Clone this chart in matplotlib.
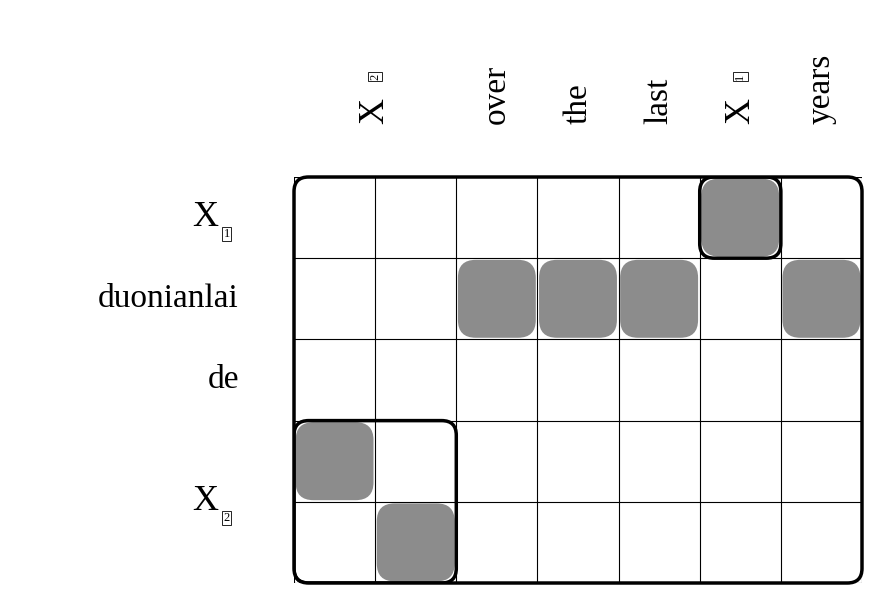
import matplotlib
matplotlib.use("Agg")
import matplotlib.pyplot as plt
from matplotlib.patches import FancyBboxPatch

rows = ["X1", "duonianlai", "de", "X2", ""]
cols = ["", "", "over", "the", "last", "X1", "years"]
filled = [(0, 5), (1, 2), (1, 3), (1, 4), (1, 6), (3, 0), (4, 1)]
boxes = [(0, 5, 1, 1), (3, 0, 2, 2)]  # row, col, nrows, ncols

W, H = 878, 594
fig = plt.figure(figsize=(W/100, H/100), dpi=100)
ax = fig.add_axes([294/W, 1-583/H, (862-294)/W, (583-177)/H])
ax.set_xlim(0, 7); ax.set_ylim(5, 0); ax.axis("off")
fam = "Liberation Serif"

for r, c in filled:
    ax.add_patch(FancyBboxPatch((c+0.02, r+0.02), 0.96, 0.96,
                 boxstyle="round,pad=0,rounding_size=0.22",
                 fc="#8c8c8c", ec="none", zorder=1))
for i in range(8):
    ax.plot([i, i], [0, 5], color="black", lw=0.8, zorder=2)
for j in range(6):
    ax.plot([0, 7], [j, j], color="black", lw=0.8, zorder=2)
for r, c, nr, nc in boxes:
    ax.add_patch(FancyBboxPatch((c, r), nc, nr,
                 boxstyle="round,pad=0,rounding_size=0.18",
                 fc="none", ec="black", lw=2.5, zorder=3))
ax.add_patch(FancyBboxPatch((0, 0), 7, 5, boxstyle="round,pad=0,rounding_size=0.18",
             fc="none", ec="black", lw=2.5, zorder=3, clip_on=False))

def xlab(x, y, num, rot):
    if rot:
        ax.text(x, y, "X", rotation=90, ha="center", va="bottom", fontsize=26, family=fam)
        ax.text(x, y-0.55, num, rotation=90, ha="center", va="bottom", fontsize=9, family=fam,
                bbox=dict(boxstyle="square,pad=0.1", fc="white", ec="black", lw=0.6))
    else:
        ax.text(x, y, "X", ha="right", va="center", fontsize=26, family=fam)
        ax.text(x+0.1, y+0.2, num, ha="center", va="center", fontsize=9, family=fam,
                bbox=dict(boxstyle="square,pad=0.1", fc="white", ec="black", lw=0.6))

ytop = -0.65
for c, lab in enumerate(cols):
    if lab == "X1":
        xlab(c+0.5, ytop, "1", True)
    elif lab:
        ax.text(c+0.5, ytop, lab, rotation=90, ha="center", va="bottom", fontsize=24, family=fam)
xlab(1.0, ytop, "2", True)

xl = -0.68
for r, lab in enumerate(rows):
    if lab == "X1":
        xlab(xl-0.25, r+0.5, "1", False)
    elif lab == "X2":
        pass
    elif lab:
        ax.text(xl, r+0.5, lab, ha="right", va="center", fontsize=24, family=fam)
xlab(xl-0.25, 4.0, "2", False)

fig.savefig("out.png", dpi=100)
